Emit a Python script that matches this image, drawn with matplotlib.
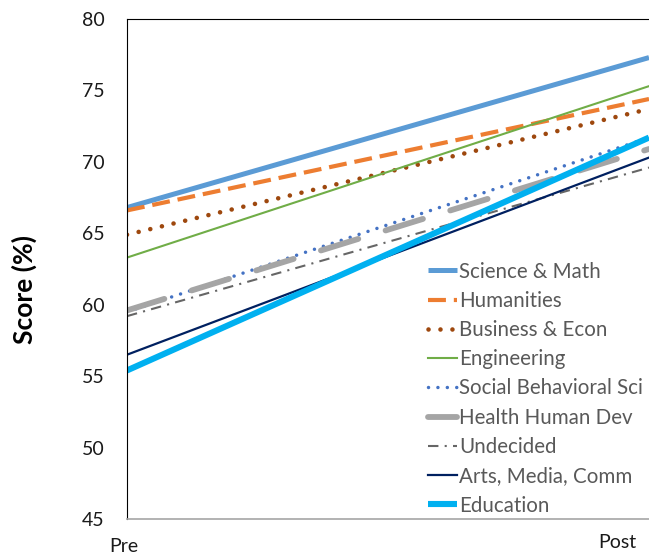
import matplotlib
matplotlib.use("Agg")
import matplotlib.pyplot as plt
import matplotlib.transforms as mtransforms

plt.rcParams['font.family'] = ['Lato', 'DejaVu Sans']

# Pre/post scores by major
stages = ["Pre", "Post"]
majors = ["Science & Math", "Humanities", "Business & Econ", "Engineering",
          "Social Behavioral Sci", "Health Human Dev", "Undecided",
          "Arts, Media, Comm", "Education"]
pre_scores = [66.8, 66.6, 64.9, 63.3, 59.5, 59.6, 59.2, 56.5, 55.4]
post_scores = [77.3, 74.4, 73.7, 75.3, 71.7, 70.9, 69.6, 70.3, 71.7]

styles = [
    dict(color="#5B9BD5", lw=3.6, ls="-", solid_capstyle="butt"),
    dict(color="#ED7D31", lw=3.0, ls=(0, (4.3, 1.9)), dash_capstyle="butt"),
    dict(color="#9E480E", lw=3.3, ls=(0, (0.01, 2.6)), dash_capstyle="round"),
    dict(color="#70AD47", lw=1.5, ls="-"),
    dict(color="#4472C4", lw=2.5, ls=(0, (0.01, 2.7)), dash_capstyle="round"),
    dict(color="#A5A5A5", lw=4.2, ls=(0, (6.7, 4.9)), dash_capstyle="round"),
    dict(color="#666666", lw=1.5, ls=(0, (5, 3, 1, 3)), dash_capstyle="butt"),
    dict(color="#002060", lw=1.6, ls="-"),
    dict(color="#00B0F0", lw=4.4, ls="-", solid_capstyle="butt"),
]

fig = plt.figure(figsize=(6.49, 5.58), dpi=100)
ax = fig.add_axes([127 / 649, 1 - 519 / 558, 1 - 127 / 649, (519 - 19) / 558])

x = [0, 1]
for name, a, b, st in zip(majors, pre_scores, post_scores, styles):
    ax.plot(x, [a, b], label=name, **st)

ax.set_xlim(0, 1)
ax.set_ylim(45, 80)
ax.set_yticks(range(45, 81, 5))
ax.set_xticks(x)
ax.set_xticklabels(stages)
ax.tick_params(axis="both", length=0, labelsize=14, labelcolor="#1a1a1a")
ax.tick_params(axis="y", pad=16)
ax.tick_params(axis="x", pad=14)

# nudge tick labels into place
xl = ax.get_xticklabels()
xl[0].set_transform(xl[0].get_transform() + mtransforms.ScaledTranslation(-3 / 100, 0, fig.dpi_scale_trans))
xl[1].set_transform(xl[1].get_transform() + mtransforms.ScaledTranslation(-32 / 100, 4 / 100, fig.dpi_scale_trans))

ax.set_ylabel("Score (%)", fontsize=19, fontweight="bold")
ax.yaxis.set_label_coords(-0.172, 0.458)

ax.spines["right"].set_visible(False)
ax.spines["left"].set_color("black")
ax.spines["top"].set_color("black")
ax.spines["bottom"].set_color("#A6A6A6")
ax.spines["bottom"].set_linewidth(1.2)

leg = ax.legend(loc="upper left", bbox_to_anchor=(0.577, 0.515), frameon=False,
                fontsize=14.8, handlelength=1.4, handletextpad=0.1,
                labelspacing=0.45, borderaxespad=0, borderpad=0)
for t in leg.get_texts():
    t.set_color("#595959")

fig.savefig("out.png", dpi=100)
